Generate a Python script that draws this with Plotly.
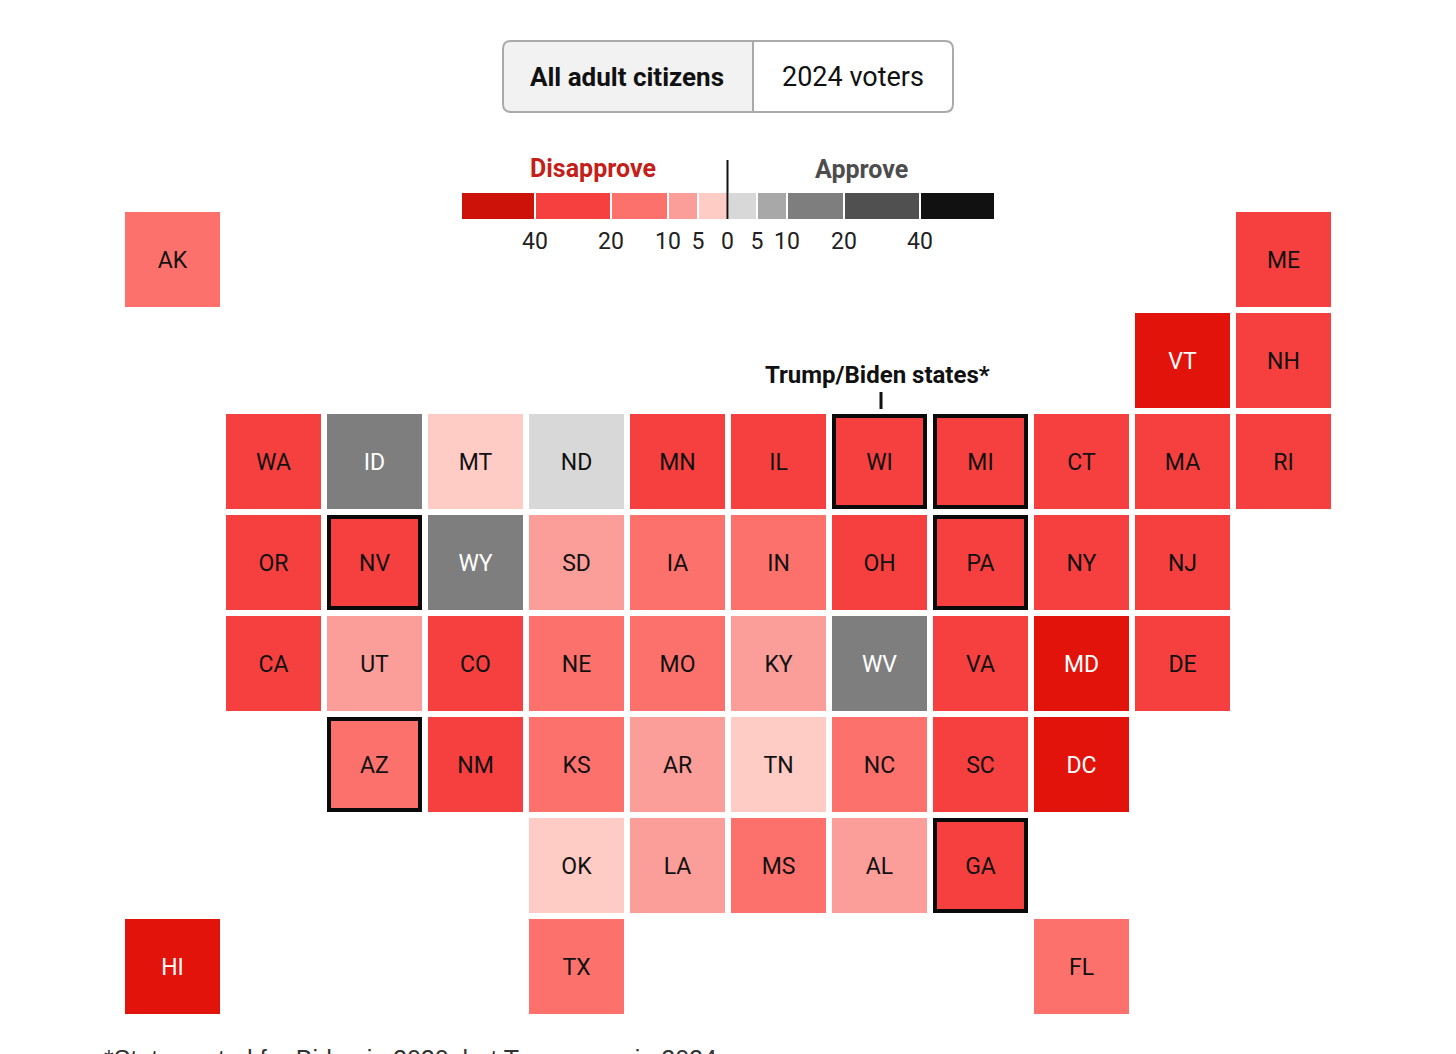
import plotly.graph_objects as go

W, H = 1456, 1054

states = ["AK", "ME", "VT", "NH",
          "WA", "ID", "MT", "ND", "MN", "IL", "WI", "MI", "CT", "MA", "RI",
          "OR", "NV", "WY", "SD", "IA", "IN", "OH", "PA", "NY", "NJ",
          "CA", "UT", "CO", "NE", "MO", "KY", "WV", "VA", "MD", "DE",
          "AZ", "NM", "KS", "AR", "TN", "NC", "SC", "DC",
          "OK", "LA", "MS", "AL", "GA",
          "HI", "TX", "FL"]
cols = [0, 11, 10, 11,
        1, 2, 3, 4, 5, 6, 7, 8, 9, 10, 11,
        1, 2, 3, 4, 5, 6, 7, 8, 9, 10,
        1, 2, 3, 4, 5, 6, 7, 8, 9, 10,
        2, 3, 4, 5, 6, 7, 8, 9,
        4, 5, 6, 7, 8,
        0, 4, 9]
rows = [0, 0, 1, 1,
        2, 2, 2, 2, 2, 2, 2, 2, 2, 2, 2,
        3, 3, 3, 3, 3, 3, 3, 3, 3, 3,
        4, 4, 4, 4, 4, 4, 4, 4, 4, 4,
        5, 5, 5, 5, 5, 5, 5, 5,
        6, 6, 6, 6, 6,
        7, 7, 7]
# net approval, negative = disapprove (only the colour bin can be read)
net = [-15, -25, -45, -25,
       -25, 15, -3, 3, -25, -25, -25, -25, -25, -25, -25,
       -25, -25, 15, -8, -15, -15, -25, -25, -25, -25,
       -25, -8, -25, -15, -15, -8, 15, -25, -45, -25,
       -15, -25, -15, -8, -3, -15, -25, -45,
       -3, -8, -15, -8, -25,
       -45, -15, -15]
white_text = ["VT", "ID", "WY", "WV", "MD", "DC", "HI"]
trump_biden = ["WI", "MI", "NV", "PA", "AZ", "GA"]

bin_edges = [-60, -40, -20, -10, -5, 0, 5, 10, 20, 40, 60]
tile_colors = ["#e2130b", "#f64040", "#fd716c", "#fb9d98", "#fecbc5",
               "#d8d8d8", "#a8a8a8", "#7e7e7e", "#505050", "#111111"]
legend_colors = ["#cc1209", "#f64040", "#fd716c", "#fb9d98", "#fecbc5",
                 "#d8d8d8", "#a8a8a8", "#7e7e7e", "#505050", "#111111"]
legend_bin_mid = [-50, -30, -15, -8, -3, 3, 8, 15, 30, 50]
legend_scale = [-266.5, -192.5, -116.5, -59.5, -29.5, 0, 29.5, 59.5, 116.5, 192.5, 267.5]
legend_labels = ["40", "20", "10", "5", "0", "5", "10", "20", "40"]

FONT = "Roboto"


def step_scale(colors):
    out = []
    for i, c in enumerate(colors):
        out.append([(bin_edges[i] + 60) / 120, c])
        out.append([(bin_edges[i + 1] + 60) / 120, c])
    return out


n_cols, n_rows = 12, 8
grid = [[None] * n_cols for _ in range(n_rows)]
for c, r, v in zip(cols, rows, net):
    grid[r][c] = v

fig = go.Figure()

fig.add_trace(go.Heatmap(
    z=grid, x=list(range(n_cols)), y=list(range(n_rows)),
    zmin=-60, zmax=60, colorscale=step_scale(tile_colors),
    showscale=False, xgap=6, ygap=6, hoverongaps=False,
    hovertemplate="%{z}<extra></extra>",
))

flip_x = [c for c, s in zip(cols, states) if s in trump_biden]
flip_y = [r for r, s in zip(rows, states) if s in trump_biden]
fig.add_trace(go.Scatter(
    x=flip_x, y=flip_y, mode="markers", hoverinfo="skip",
    marker=dict(symbol="square-open", size=91, color="#0a0a0a", line=dict(width=4, color="#0a0a0a")),
))

# labels sit a touch below the tile centre, as in the original
fig.add_trace(go.Scatter(
    x=cols, y=[r + 0.03 for r in rows], mode="text", text=states, hoverinfo="skip",
    textposition="middle center",
    textfont=dict(family=FONT, size=23,
                  color=["#ffffff" if s in white_text else "#111111" for s in states]),
))

# legend strip on its own axes
fig.add_trace(go.Heatmap(
    z=[legend_bin_mid], x=legend_scale, y=[0],
    zmin=-60, zmax=60, colorscale=step_scale(legend_colors),
    showscale=False, xgap=2, xaxis="x2", yaxis="y2", hoverinfo="skip",
))

fig.update_layout(
    width=W, height=H,
    margin=dict(l=0, r=0, t=0, b=0),
    paper_bgcolor="white", plot_bgcolor="white",
    showlegend=False,
    font=dict(family=FONT, color="#111111"),
    xaxis=dict(range=[-172.5 / 101, (W - 172.5) / 101], domain=[0, 1], visible=False, fixedrange=True),
    yaxis=dict(range=[(H - 259.5) / 101, -259.5 / 101], domain=[0, 1], visible=False, fixedrange=True),
    xaxis2=dict(domain=[461 / W, 995 / W], range=[legend_scale[0], legend_scale[-1]], anchor="y2",
                tickmode="array", tickvals=legend_scale[1:-1], ticktext=legend_labels,
                ticks="outside", ticklen=1, tickcolor="rgba(0,0,0,0)", showgrid=False, zeroline=False,
                showline=False, tickfont=dict(family=FONT, size=23, color="#222222"), fixedrange=True),
    yaxis2=dict(domain=[1 - 219 / H, 1 - 193 / H], range=[-0.5, 0.5], anchor="x2", visible=False, fixedrange=True),
)


def px_x(v):
    return v / W


def px_y(v):
    return 1 - v / H


def rounded(x0, y0, x1, y1, left, right):
    r = 8
    xa, xb, ya, yb = px_x(x0), px_x(x1), px_y(y0), px_y(y1)
    rx, ry = r / W, r / H
    p = f"M {xa + (rx if left else 0)} {ya} L {xb - (rx if right else 0)} {ya} "
    p += f"Q {xb} {ya} {xb} {ya - ry} L {xb} {yb + ry} Q {xb} {yb} {xb - rx} {yb} " if right else f"L {xb} {yb} "
    p += f"L {xa + rx} {yb} Q {xa} {yb} {xa} {yb + ry} L {xa} {ya - ry} Q {xa} {ya} {xa + rx} {ya} Z" if left else f"L {xa} {yb} Z"
    return p


fig.add_shape(type="path", path=rounded(503, 41, 753, 112, True, False), xref="paper", yref="paper",
              fillcolor="#f2f2f2", line=dict(color="#aaaaaa", width=2))
fig.add_shape(type="path", path=rounded(753, 41, 953, 112, False, True), xref="paper", yref="paper",
              fillcolor="white", line=dict(color="#aaaaaa", width=2))
fig.add_shape(type="line", xref="paper", yref="paper", x0=px_x(727.5), x1=px_x(727.5), y0=px_y(160), y1=px_y(219),
              line=dict(color="#111111", width=2), layer="above")
fig.add_shape(type="line", xref="paper", yref="paper", x0=px_x(881), x1=px_x(881), y0=px_y(392), y1=px_y(409),
              line=dict(color="#111111", width=3))


def label(text, x, y, size, color="#111111", bold=False, family=FONT):
    fig.add_annotation(xref="paper", yref="paper", x=px_x(x), y=px_y(y), text=f"<b>{text}</b>" if bold else text,
                       showarrow=False, xanchor="center", yanchor="middle",
                       font=dict(family=family, size=size, color=color))


label("All adult citizens", 627, 77, 26, bold=True)
label("2024 voters", 853, 77, 27)
label("Disapprove", 593, 168, 25, color="#c4201a", bold=True)
label("Approve", 861, 169, 25, color="#4d4d4d", bold=True)
label("Trump/Biden states*", 877, 375, 24, bold=True)
label("*States voted for Biden in 2020, but Trump won in 2024", 410, 1059, 25, color="#333333", family="Liberation Sans")

fig.write_html("out.html", post_script="document.body.style.margin='0';", config={"displayModeBar": False})
